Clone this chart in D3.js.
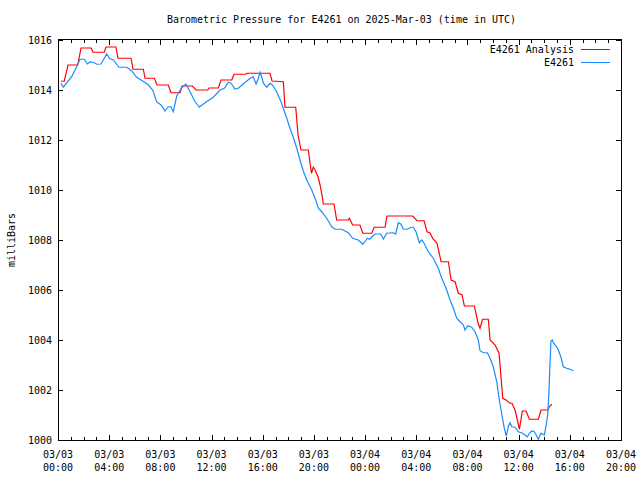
<!DOCTYPE html>
<html>
<head>
<meta charset="utf-8">
<script src="https://cdn.jsdelivr.net/npm/d3@7"></script>
<style>
  html, body { margin: 0; padding: 0; background: #fff; }
  svg { display: block; }
  text { font-family: "DejaVu Sans Mono", "Liberation Mono", monospace; font-size: 10px; fill: #000; }
</style>
</head>
<body>
<svg id="chart" width="640" height="480"></svg>
<script>
// ---- data (hours since 2025-03-03 00:00 UTC, pressure in mbar) ----
const redHours = [0.23,0.49,0.78,1.54,1.80,2.58,2.74,3.62,3.75,4.53,4.69,5.71,5.86,6.67,6.80,7.53,7.74,8.62,8.83,9.54,9.69,10.50,10.79,11.70,11.80,12.53,12.74,13.58,13.76,14.69,14.77,16.57,16.73,17.61,17.74,18.58,18.76,18.99,19.56,19.81,19.95,20.09,20.32,20.48,20.63,20.74,21.57,21.78,22.69,22.77,23.03,23.60,23.82,24.52,24.70,25.56,25.71,27.72,28.06,28.61,28.84,29.08,29.31,29.62,29.94,30.51,30.72,31.03,31.29,31.58,31.76,32.54,32.83,32.98,33.18,33.63,33.77,34.16,34.47,34.76,35.02,35.33,35.48,35.72,36.06,36.29,36.58,36.84,37.54,37.75,38.27,38.45,38.59];
const redValues = [1014.35,1014.35,1015.00,1015.00,1015.68,1015.68,1015.51,1015.51,1015.72,1015.72,1015.27,1015.27,1014.83,1014.83,1014.47,1014.47,1014.20,1014.20,1013.89,1013.89,1014.16,1014.16,1014.00,1014.00,1014.08,1014.08,1014.40,1014.40,1014.63,1014.63,1014.67,1014.67,1014.36,1014.33,1013.31,1013.31,1012.20,1011.60,1011.60,1010.67,1010.91,1010.80,1010.53,1010.20,1009.80,1009.44,1009.44,1008.80,1008.80,1008.87,1008.60,1008.60,1008.27,1008.27,1008.51,1008.51,1008.96,1008.96,1008.77,1008.77,1008.33,1008.28,1008.04,1007.88,1007.13,1007.13,1006.40,1006.33,1005.87,1005.80,1005.36,1005.36,1004.67,1004.47,1004.83,1004.83,1004.00,1003.80,1003.47,1001.67,1001.60,1001.47,1001.47,1001.20,1000.43,1001.16,1001.16,1000.83,1000.83,1001.20,1001.20,1001.36,1001.43];

const blueHours = [0.23,0.41,1.07,1.46,1.72,2.06,2.29,2.50,2.84,3.02,3.36,3.81,4.01,4.32,4.77,5.37,5.76,6.15,6.59,7.01,7.40,7.71,8.05,8.36,8.62,8.83,9.01,9.28,9.67,10.00,10.32,10.71,11.04,11.49,12.14,12.66,13.00,13.31,13.52,13.83,14.09,14.48,15.01,15.26,15.48,15.66,15.79,15.92,16.05,16.31,16.57,16.75,17.09,17.43,17.74,17.88,18.13,18.39,18.66,18.91,19.17,19.44,19.83,20.09,20.35,20.61,21.00,21.39,21.65,22.17,22.69,23.03,23.47,23.82,24.18,24.33,24.78,25.22,25.43,25.69,26.21,26.39,26.60,26.79,26.99,27.30,27.59,27.77,27.98,28.24,28.43,28.61,28.94,29.33,29.72,29.99,30.33,30.64,30.90,31.16,31.42,31.68,31.81,32.02,32.33,32.59,32.85,32.98,33.24,33.55,33.77,34.02,34.29,34.49,34.68,34.88,35.04,35.20,35.33,35.46,35.72,35.98,36.24,36.50,36.68,36.84,37.02,37.23,37.41,37.54,37.73,37.89,38.01,38.14,38.27,38.37,38.45,38.53,38.63,38.71,38.97,39.10,39.31,39.49,39.75,40.01,40.27];
const blueValues = [1014.27,1014.11,1014.53,1014.93,1015.23,1015.23,1015.04,1015.12,1015.09,1015.03,1015.04,1015.44,1015.27,1015.20,1014.91,1014.91,1014.77,1014.51,1014.37,1014.23,1014.00,1013.53,1013.40,1013.16,1013.33,1013.33,1013.13,1013.76,1014.09,1014.24,1013.93,1013.53,1013.31,1013.49,1013.71,1014.00,1014.07,1014.31,1014.27,1014.04,1014.07,1014.24,1014.47,1014.53,1014.24,1014.47,1014.71,1014.53,1014.27,1014.11,1014.27,1014.20,1013.93,1013.53,1013.07,1012.87,1012.47,1012.11,1011.67,1011.20,1010.76,1010.40,1010.00,1009.67,1009.27,1009.13,1008.87,1008.53,1008.43,1008.43,1008.29,1008.07,1008.00,1007.83,1008.07,1008.03,1008.24,1008.24,1008.04,1008.27,1008.29,1008.24,1008.69,1008.64,1008.43,1008.43,1008.51,1008.51,1008.33,1007.89,1008.00,1007.87,1007.53,1007.27,1006.87,1006.47,1006.07,1005.60,1005.27,1004.87,1004.73,1004.60,1004.40,1004.57,1004.51,1004.33,1004.00,1003.57,1003.49,1003.49,1003.27,1002.93,1002.33,1001.60,1001.04,1000.47,1000.16,1000.56,1000.69,1000.53,1000.51,1000.33,1000.29,1000.20,1000.13,1000.27,1000.36,1000.33,1000.16,1000.03,1000.27,1000.23,1000.20,1000.56,1001.00,1001.93,1003.07,1003.97,1004.00,1003.89,1003.73,1003.60,1003.31,1002.93,1002.87,1002.83,1002.77];

const xTickHours = [0,4,8,12,16,20,24,28,32,36,40,44];
const xTickDates = ["03/03","03/03","03/03","03/03","03/03","03/03","03/04","03/04","03/04","03/04","03/04","03/04"];
const xTickTimes = ["00:00","04:00","08:00","12:00","16:00","20:00","00:00","04:00","08:00","12:00","16:00","20:00"];
const yTicks = [1000,1002,1004,1006,1008,1010,1012,1014,1016];
const seriesNames = ["E4261 Analysis","E4261"];
const seriesColors = ["#ff0000","#1a8cff"];
const titleText = "Barometric Pressure for E4261 on 2025-Mar-03 (time in UTC)";
const yLabel = "milliBars";

// ---- layout ----
const L = 58, R = 621, T = 40, B = 440;
const svg = d3.select("#chart");
const x = d3.scaleLinear().domain([0, 44]).range([L, R]);
const y = d3.scaleLinear().domain([1000, 1016]).range([B, T]);

// ticks (inward, mirrored like gnuplot)
const tickG = svg.append("g").attr("stroke", "#000").attr("stroke-width", 1).attr("shape-rendering", "crispEdges");
const minorHours = d3.range(0, 45, 1);
minorHours.forEach(h => {
  const isMajor = h % 4 === 0;
  const len = isMajor ? 5 : 3;
  const px = Math.round(x(h)) + 0.5;
  tickG.append("line").attr("x1", px).attr("x2", px).attr("y1", B).attr("y2", B - len);
  tickG.append("line").attr("x1", px).attr("x2", px).attr("y1", T).attr("y2", T + len);
});
yTicks.forEach(v => {
  const py = Math.round(y(v)) + 0.5;
  tickG.append("line").attr("x1", L).attr("x2", L + 5).attr("y1", py).attr("y2", py);
  tickG.append("line").attr("x1", R).attr("x2", R - 5).attr("y1", py).attr("y2", py);
});

// y tick labels
svg.append("g").selectAll("text").data(yTicks).join("text")
  .attr("x", L - 6).attr("y", d => y(d) + 3.5)
  .attr("text-anchor", "end").text(d => d);

// x tick labels
const xl = svg.append("g").selectAll("g").data(xTickHours).join("g");
xl.append("text").attr("x", d => x(d)).attr("y", 458).attr("text-anchor", "middle").text((d, i) => xTickDates[i]);
xl.append("text").attr("x", d => x(d)).attr("y", 471).attr("text-anchor", "middle").text((d, i) => xTickTimes[i]);

// title and axis label
svg.append("text").attr("x", (L + R) / 2 + 2).attr("y", 23).attr("text-anchor", "middle").text(titleText);
svg.append("text").attr("transform", "translate(15," + ((T + B) / 2) + ") rotate(-90)")
  .attr("text-anchor", "middle").text(yLabel);

// series
const line = d3.line().x(d => x(d[0])).y(d => y(d[1]));
const redData = redHours.map((h, i) => [h, redValues[i]]);
const blueData = blueHours.map((h, i) => [h, blueValues[i]]);
const clip = svg.append("clipPath").attr("id", "plotclip").append("rect")
  .attr("x", L).attr("y", T - 1).attr("width", R - L).attr("height", B - T + 1);
const plot = svg.append("g").attr("clip-path", "url(#plotclip)");
plot.append("path").datum(redData).attr("d", line).attr("fill", "none")
  .attr("stroke", seriesColors[0]).attr("stroke-width", 1.2);
plot.append("path").datum(blueData).attr("d", line).attr("fill", "none")
  .attr("stroke", seriesColors[1]).attr("stroke-width", 1.2);

// border
svg.append("rect").attr("x", L + 0.5).attr("y", T - 0.5).attr("width", R - L).attr("height", B - T + 1)
  .attr("fill", "none").attr("stroke", "#000").attr("stroke-width", 1).attr("shape-rendering", "crispEdges");

// legend
const lg = svg.append("g");
seriesNames.forEach((name, i) => {
  const ly = 49.5 + i * 13;
  lg.append("text").attr("x", 574).attr("y", ly + 3.5).attr("text-anchor", "end").text(name);
  lg.append("line").attr("x1", 581).attr("x2", 610).attr("y1", ly).attr("y2", ly)
    .attr("stroke", seriesColors[i]).attr("stroke-width", 1).attr("shape-rendering", "crispEdges");
});
</script>
</body>
</html>
